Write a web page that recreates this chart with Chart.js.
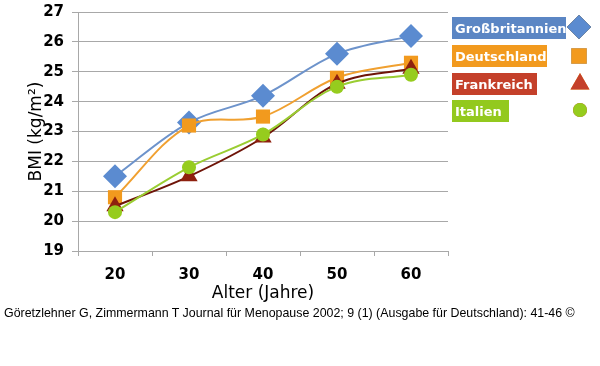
<!DOCTYPE html>
<html>
<head>
<meta charset="utf-8">
<script src="https://cdn.jsdelivr.net/npm/chart.js@4"></script>
<style>
  body { margin: 0; background: #fff; width: 600px; height: 366px; overflow: hidden; position: relative; }
  #wrap { position: absolute; left: 0; top: 0; width: 600px; height: 308px; }
  .leg { position: absolute; left: 452px; height: 22px; color: #fff; display: flex; align-items: center;
         font: bold 13px "DejaVu Sans", Verdana, sans-serif; padding-left: 3px; box-sizing: border-box; }
  #foot { position: absolute; left: 4px; top: 306px; font: 12.4px "Liberation Sans", Arial, sans-serif; color: #000; }
</style>
</head>
<body>
<div id="wrap"><canvas id="chart"></canvas></div>
<div class="leg" style="top:17px;width:114px;background:#5b86c4">Großbritannien</div>
<div class="leg" style="top:45px;width:95px;background:#f29a1e">Deutschland</div>
<div class="leg" style="top:73px;width:85px;background:#c4402a">Frankreich</div>
<div class="leg" style="top:100px;width:57px;background:#93c91e">Italien</div>
<canvas id="legmarks" width="40" height="130" style="position:absolute;left:560px;top:0"></canvas>
<div id="foot">Göretzlehner G, Zimmermann T Journal für Menopause 2002; 9 (1) (Ausgabe für Deutschland): 41-46 ©</div>
<script>
const ages = ['20', '30', '40', '50', '60'];
const grossbritannien = [21.5, 23.3, 24.2, 25.6, 26.2];
const deutschland = [20.8, 23.2, 23.5, 24.8, 25.3];
const frankreich = [20.5, 21.5, 22.8, 24.6, 25.1];
const italien = [20.3, 21.8, 22.9, 24.5, 24.9];

const gridGray = '#a8a8a8';

new Chart(document.getElementById('chart'), {
    type: 'line',
    data: {
        labels: ages,
        datasets: [
            { label: 'Großbritannien', data: grossbritannien, borderColor: '#6d93cb', backgroundColor: '#5b8bd0',
              pointStyle: 'rectRot', pointRadius: 12, order: 3 },
            { label: 'Deutschland', data: deutschland, borderColor: '#f0a030', backgroundColor: '#f29a1e',
              pointStyle: 'rect', pointRadius: 10, order: 2 },
            { label: 'Frankreich', data: frankreich, borderColor: '#6e1408', backgroundColor: '#8e200e',
              pointStyle: 'triangle', pointRadius: 10, order: 1 },
            { label: 'Italien', data: italien, borderColor: '#9acd32', backgroundColor: '#96cc1e',
              pointStyle: 'circle', pointRadius: 7, order: 0 }
        ]
    },
    options: {
        responsive: true,
        maintainAspectRatio: false,
        animation: false,
        layout: { padding: { top: 0, right: 152, left: 22, bottom: 0 } },
        elements: {
            line: { tension: 0.35, borderWidth: 2 },
            point: { borderWidth: 0, hoverRadius: 12 }
        },
        plugins: { legend: { display: false }, tooltip: { enabled: false } },
        scales: {
            x: {
                offset: true,
                grid: { display: true, drawOnChartArea: false, color: gridGray, tickLength: 5, offset: true },
                border: { color: gridGray },
                ticks: { color: '#000', padding: 10, font: { family: 'DejaVu Sans', weight: 'bold', size: 15 } },
                title: { display: true, text: 'Alter (Jahre)', color: '#000', padding: { top: 3 },
                         font: { family: 'DejaVu Sans', size: 17 } },
                afterFit: s => { s.height = 57; s.paddingBottom = 0; }
            },
            y: {
                min: 19,
                max: 27,
                ticks: { stepSize: 1, color: '#000', padding: 8, font: { family: 'DejaVu Sans', weight: 'bold', size: 15 } },
                grid: { color: gridGray, tickLength: 6 },
                border: { color: gridGray },
                title: { display: true, text: 'BMI (kg/m²)', color: '#000', padding: { bottom: 0 },
                         font: { family: 'DejaVu Sans', size: 17 } },
                afterFit: s => { s.width = 56; s.paddingTop = 11; s.paddingBottom = 0; }
            }
        }
    }
});

// legend markers
const lc = document.getElementById('legmarks').getContext('2d');
Chart.helpers.drawPoint(lc, { pointStyle: 'rectRot', radius: 12, rotation: 0 }, 19, 27);
lc.fillStyle = '#5b8bd0'; lc.fill();
lc.beginPath();
Chart.helpers.drawPoint(lc, { pointStyle: 'rect', radius: 11, rotation: 0 }, 19, 56);
lc.fillStyle = '#f29a1e'; lc.fill();
lc.beginPath();
Chart.helpers.drawPoint(lc, { pointStyle: 'triangle', radius: 11, rotation: 0 }, 20, 84);
lc.fillStyle = '#c4402a'; lc.fill();
lc.beginPath();
Chart.helpers.drawPoint(lc, { pointStyle: 'circle', radius: 7, rotation: 0 }, 20, 110);
lc.fillStyle = '#96cc1e'; lc.fill();
</script>
</body>
</html>
